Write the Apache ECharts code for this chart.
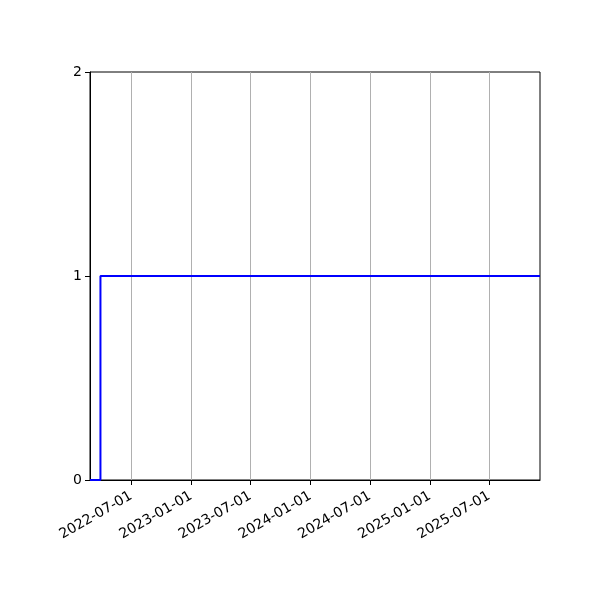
<!DOCTYPE html>
<html>
<head>
<meta charset="utf-8">
<script src="https://cdn.jsdelivr.net/npm/echarts@6/dist/echarts.min.js"></script>
<style>
  html, body { margin: 0; padding: 0; background: #fff; }
  #main { width: 600px; height: 600px; }
</style>
</head>
<body>
<div id="main"></div>
<script>
// step series: date, value
let dates = ['2022-02-25', '2022-03-29', '2025-12-04']
let values = [0, 1, 1]

let xMin = '2022-02-25'
let xMax = '2025-12-04'
let tickDates = ['2022-07-01', '2023-01-01', '2023-07-01', '2024-01-01',
                 '2024-07-01', '2025-01-01', '2025-07-01']
let yTicks = [0, 1, 2]

let mychart = echarts.init(document.getElementById('main'))

// dates -> timestamps (UTC) so a plain value axis can carry them
let ts = d => Date.parse(d + 'T00:00:00Z')
let tickValues = tickDates.map(ts)
let font = 'DejaVu Sans'

let option = {
    animation: false,
    grid: {
        left: 90,
        right: 60,
        top: 72,
        bottom: 120,
        show: true,
        borderColor: '#000',
        borderWidth: 1
    },
    xAxis: {
        type: 'value',
        min: ts(xMin),
        max: ts(xMax),
        axisLine: { show: true, lineStyle: { color: '#000', width: 1 } },
        axisTick: {
            show: true,
            customValues: tickValues,
            length: 5,
            lineStyle: { color: '#000', width: 1 }
        },
        axisLabel: {
            customValues: tickValues,
            rotate: 30,
            margin: 15,
            color: '#000',
            fontFamily: font,
            fontSize: 14,
            formatter: function (v) {
                return new Date(v).toISOString().slice(0, 10)
            }
        },
        splitLine: {
            show: true,
            lineStyle: { color: '#b0b0b0', width: 1 }
        }
    },
    yAxis: {
        type: 'value',
        min: yTicks[0],
        max: yTicks[yTicks.length - 1],
        interval: 1,
        axisLine: { show: true, lineStyle: { color: '#000', width: 1 } },
        axisTick: { show: true, length: 5, lineStyle: { color: '#000', width: 1 } },
        axisLabel: { color: '#000', fontFamily: font, fontSize: 14, margin: 8 },
        splitLine: { show: false }
    },
    series: [
        {
            type: 'line',
            step: 'end',
            showSymbol: false,
            symbol: 'none',
            lineStyle: { color: '#0000ff', width: 2 },
            data: dates.map((d, i) => [ts(d), values[i]])
        }
    ]
}
mychart.setOption(option)
</script>
</body>
</html>
